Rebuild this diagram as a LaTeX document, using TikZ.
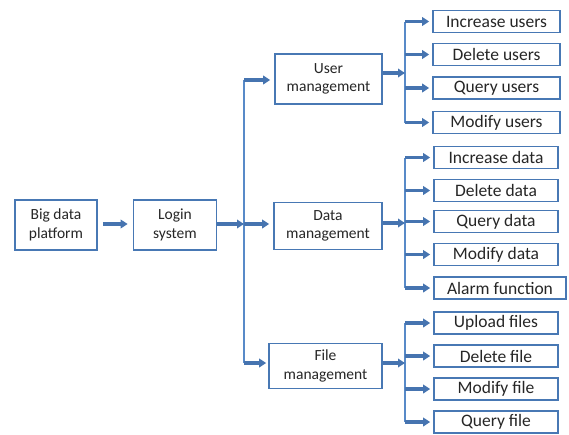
\documentclass[tikz,border=0pt]{standalone}
\usepackage{fontspec}
\setmainfont{Carlito}
\usetikzlibrary{arrows.meta}
\definecolor{lineblue}{RGB}{70,116,176}
\definecolor{spineblue}{RGB}{88,138,200}
\definecolor{boxblue}{RGB}{72,120,180}
\definecolor{txt}{RGB}{38,38,38}
\begin{document}
\begin{tikzpicture}[x=1pt,y=-1pt,
  lvl/.style={draw=boxblue, line width=1.6pt, fill=white, align=center, text=txt,
    font=\fontsize{15.5}{18.5}\selectfont, inner sep=0pt},
  leaf/.style={lvl, font=\fontsize{17.5}{20}\selectfont, minimum width=127pt, minimum height=22pt},
  spine/.style={draw=spineblue, line width=2.2pt},
  arr/.style={draw=lineblue, line width=3.2pt, -{Triangle[length=7pt,width=8.5pt]}}]
\useasboundingbox (0,0) rectangle (569,434);
% level boxes
\node[lvl, minimum width=82pt, minimum height=50pt] (bdp) at (56,225) {Big data\\platform};
\node[lvl, minimum width=83pt, minimum height=50pt] (login) at (175,225) {Login\\system};
\node[lvl, minimum width=107pt, minimum height=50pt] (um) at (328.5,79) {User\\management};
\node[lvl, minimum width=108pt, minimum height=47pt] (dm) at (328,226) {Data\\management};
\node[lvl, minimum width=113pt, minimum height=45pt] (fm) at (325.5,366) {File\\management};
% leaves: users
\node[leaf] (u1) at (496.5,21.5) {Increase users};
\node[leaf] (u2) at (496.5,54.5) {Delete users};
\node[leaf] (u3) at (496.5,88) {Query users};
\node[leaf] (u4) at (496.5,122.5) {Modify users};
% leaves: data
\node[leaf, minimum width=124pt] (d1) at (496,157.5) {Increase data};
\node[leaf, minimum width=124pt] (d2) at (496,190.5) {Delete data};
\node[leaf, minimum width=124pt] (d3) at (496,221.5) {Query data};
\node[leaf, minimum width=124pt] (d4) at (496,254.5) {Modify data};
\node[leaf, minimum width=132pt] (d5) at (500,288) {Alarm function};
% leaves: files
\node[leaf, minimum width=124pt] (f1) at (496,323) {Upload files};
\node[leaf, minimum width=124pt] (f2) at (496,356) {Delete file};
\node[leaf, minimum width=124pt] (f3) at (496,389) {Modify file};
\node[leaf, minimum width=124pt] (f4) at (496,422) {Query file};
% spine coordinates
\coordinate (mtop) at (244,80);
\coordinate (mbot) at (244,363);
\coordinate (mmid) at (244,224);
\coordinate (ux) at (405,73);
\coordinate (dx) at (405,223);
\coordinate (fx) at (405,363);
% main flow
\draw[arr, shorten <=5pt, shorten >=5pt] (bdp.east |- mmid) -- (login.west |- mmid);
\draw[spine] (mtop) -- (mbot);
\draw[arr] (login.east |- mmid) -- (mmid);
\draw[arr, shorten >=4pt] (mtop) -- (um.west |- mtop);
\draw[arr, shorten >=4pt] (mmid) -- (dm.west |- mmid);
\draw[arr, shorten >=2pt] (mbot) -- (fm.west |- mbot);
% user branch
\draw[spine] (u1.west -| ux) -- (u4.west -| ux);
\draw[arr] (um.east |- ux) -- (ux);
\foreach \n in {u1,u2,u3,u4} \draw[arr, shorten >=3pt] (\n.west -| ux) -- (\n.west);
% data branch
\draw[spine] (d1.west -| dx) -- (d5.west -| dx);
\draw[arr] (dm.east |- dx) -- (dx);
\foreach \n in {d1,d2,d3,d4,d5} \draw[arr, shorten >=3pt] (\n.west -| dx) -- (\n.west);
% file branch
\draw[spine] (f1.west -| fx) -- (f4.west -| fx);
\draw[arr] (fm.east |- fx) -- (fx);
\foreach \n in {f1,f2,f3,f4} \draw[arr, shorten >=3pt] (\n.west -| fx) -- (\n.west);
\end{tikzpicture}
\end{document}
